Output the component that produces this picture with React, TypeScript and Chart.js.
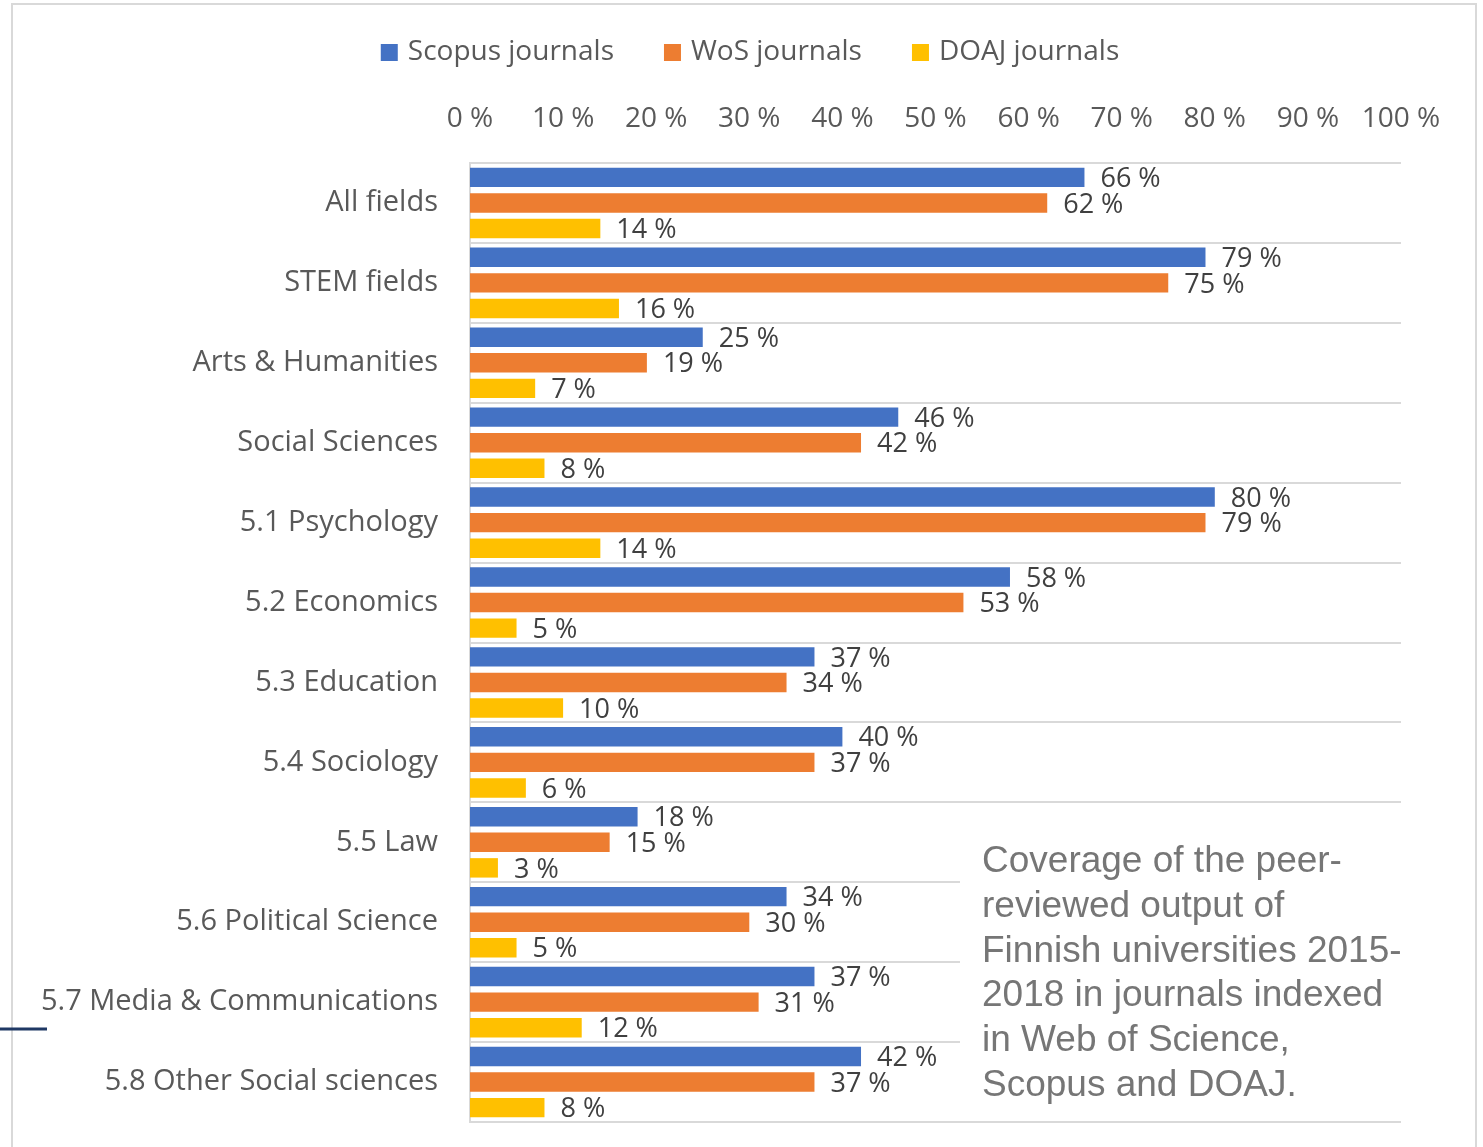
import React, { useEffect, useRef } from "react";
import { Chart, registerables } from "chart.js";

Chart.register(...registerables);

const categories = [
  "All fields",
  "STEM fields",
  "Arts & Humanities",
  "Social Sciences",
  "5.1 Psychology",
  "5.2 Economics",
  "5.3 Education",
  "5.4 Sociology",
  "5.5 Law",
  "5.6 Political Science",
  "5.7 Media & Communications",
  "5.8 Other Social sciences",
];
const scopusValues = [66, 79, 25, 46, 80, 58, 37, 40, 18, 34, 37, 42];
const wosValues = [62, 75, 19, 42, 79, 53, 34, 37, 15, 30, 31, 37];
const doajValues = [14, 16, 7, 8, 14, 5, 10, 6, 3, 5, 12, 8];
const seriesNames = ["Scopus journals", "WoS journals", "DOAJ journals"];
const seriesColors = ["#4472C4", "#ED7D31", "#FFC000"];
const noteLines = [
  "Coverage of the peer-",
  "reviewed output of",
  "Finnish universities 2015-",
  "2018 in journals indexed",
  "in Web of Science,",
  "Scopus and DOAJ.",
];

const FONT = "'Open Sans', Lato, sans-serif";

export default function App() {
  const ref = useRef<HTMLCanvasElement | null>(null);

  useEffect(() => {
    document.body.style.margin = "0";
    document.body.style.overflow = "hidden";
    const canvas = ref.current!;

    const framePlugin = {
      id: "frame",
      beforeDraw(chart: any) {
        const ctx = chart.ctx;
        ctx.save();
        ctx.fillStyle = "#ffffff";
        ctx.fillRect(0, 0, chart.width, chart.height);
        ctx.strokeStyle = "#d9d9d9";
        ctx.lineWidth = 2;
        ctx.beginPath();
        ctx.moveTo(12, chart.height);
        ctx.lineTo(12, 4);
        ctx.lineTo(1476, 4);
        ctx.lineTo(1476, chart.height);
        ctx.stroke();
        ctx.strokeStyle = "#1F3864";
        ctx.lineWidth = 3;
        ctx.beginPath();
        ctx.moveTo(0, 1029);
        ctx.lineTo(47, 1029);
        ctx.stroke();
        ctx.restore();
      },
    };

    const legendPlugin = {
      id: "customLegend",
      afterDraw(chart: any) {
        const ctx = chart.ctx;
        ctx.save();
        ctx.font = `28px ${FONT}`;
        ctx.textBaseline = "middle";
        ctx.textAlign = "left";
        const box = 17;
        const gapText = 10;
        const gapItem = 50;
        const widths = seriesNames.map((n) => ctx.measureText(n).width);
        const total =
          widths.reduce((a: number, w: number) => a + box + gapText + w, 0) + gapItem * (seriesNames.length - 1);
        let x = 750 - total / 2;
        const cy = 52;
        seriesNames.forEach((n, i) => {
          ctx.fillStyle = seriesColors[i];
          ctx.fillRect(x, cy - 8, box, box);
          ctx.fillStyle = "#595959";
          ctx.fillText(n, x + box + gapText, cy);
          x += box + gapText + widths[i] + gapItem;
        });
        ctx.restore();
      },
    };

    const labelPlugin = {
      id: "barLabels",
      afterDatasetsDraw(chart: any) {
        const ctx = chart.ctx;
        ctx.save();
        ctx.font = `27px ${FONT}`;
        ctx.fillStyle = "#404040";
        ctx.textAlign = "left";
        ctx.textBaseline = "middle";
        chart.data.datasets.forEach((ds: any, i: number) => {
          const meta = chart.getDatasetMeta(i);
          meta.data.forEach((bar: any, j: number) => {
            ctx.fillText(`${ds.data[j]} %`, bar.x + 16, bar.y + 2);
          });
        });
        ctx.restore();
      },
    };

    const notePlugin = {
      id: "note",
      afterDraw(chart: any) {
        const ctx = chart.ctx;
        const area = chart.chartArea;
        ctx.save();
        ctx.fillStyle = "#ffffff";
        ctx.fillRect(960, 806, area.right - 960 + 2, 312);
        ctx.font = "37px 'Liberation Sans', Arial, sans-serif";
        ctx.fillStyle = "#767676";
        ctx.textAlign = "left";
        ctx.textBaseline = "alphabetic";
        noteLines.forEach((line, k) => {
          ctx.fillText(line, 982, 872 + k * 44.8);
        });
        ctx.restore();
      },
    };

    const chart = new Chart(canvas, {
      type: "bar",
      data: {
        labels: categories,
        datasets: [scopusValues, wosValues, doajValues].map((d, i) => ({
          label: seriesNames[i],
          data: d,
          backgroundColor: seriesColors[i],
          borderWidth: 0,
          categoryPercentage: 0.96,
          barPercentage: 0.76,
        })),
      },
      options: {
        indexAxis: "y",
        responsive: false,
        animation: false,
        layout: { padding: { left: 0, right: 82, top: 85, bottom: 25 } },
        plugins: {
          legend: { display: false },
          tooltip: { enabled: false },
        },
        scales: {
          x: {
            position: "top",
            min: 0,
            max: 100,
            ticks: {
              stepSize: 10,
              color: "#595959",
              padding: 27,
              font: { family: FONT, size: 28 },
              callback: (v: any) => `${v} %`,
            },
            grid: { display: false, drawTicks: false },
            border: { display: false },
            afterFit: (s: any) => {
              s.height = 78;
            },
          },
          y: {
            ticks: {
              color: "#595959",
              padding: 0,
              font: { family: FONT, size: 29 },
            },
            grid: {
              color: "#d9d9d9",
              lineWidth: 2,
              drawTicks: true,
              tickLength: 32,
              tickColor: "rgba(0,0,0,0)",
              offset: true,
            },
            border: { display: true, color: "#d9d9d9", width: 2 },
            afterFit: (s: any) => {
              s.width = 470;
            },
          },
        },
      },
      plugins: [framePlugin, legendPlugin, labelPlugin, notePlugin],
    });

    return () => chart.destroy();
  }, []);

  return <canvas ref={ref} width={1483} height={1147} style={{ display: "block", width: 1483, height: 1147 }} />;
}
